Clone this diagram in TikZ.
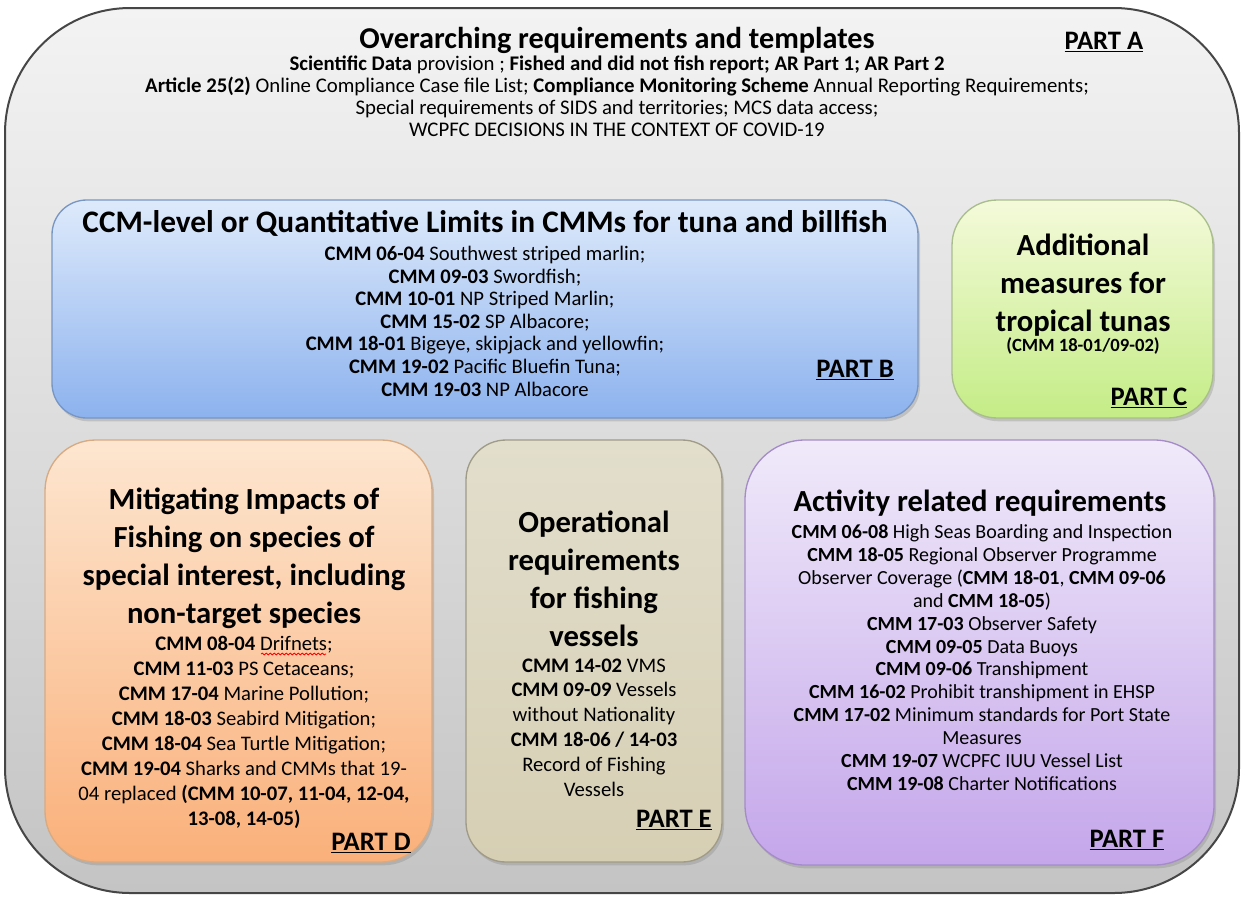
\documentclass[tikz,border=0pt]{standalone}
\usepackage{fontspec}
\setmainfont{Carlito}
\usetikzlibrary{shadows,calc,decorations.pathmorphing}

\definecolor{frameTop}{RGB}{243,243,243}
\definecolor{frameBot}{RGB}{196,196,196}
\definecolor{frameLine}{RGB}{70,70,70}
\definecolor{blueTop}{RGB}{222,234,251}
\definecolor{blueBot}{RGB}{140,178,238}
\definecolor{blueLine}{RGB}{120,150,195}
\definecolor{greenTop}{RGB}{244,250,218}
\definecolor{greenBot}{RGB}{196,236,134}
\definecolor{greenLine}{RGB}{170,190,140}
\definecolor{orangeTop}{RGB}{253,230,208}
\definecolor{orangeBot}{RGB}{250,176,122}
\definecolor{orangeLine}{RGB}{215,170,130}
\definecolor{tanTop}{RGB}{226,222,204}
\definecolor{tanBot}{RGB}{214,207,180}
\definecolor{tanLine}{RGB}{160,155,135}
\definecolor{lilacTop}{RGB}{240,234,250}
\definecolor{lilacBot}{RGB}{196,166,234}
\definecolor{lilacLine}{RGB}{165,140,200}

\tikzset{every picture/.style={line width=0.75pt}}
\tikzset{
  panel/.style={line width=1pt, drop shadow={opacity=0.3, shadow xshift=1.5pt, shadow yshift=-2.5pt}},
  ttl/.style={font=\fontsize{23}{28.5}\selectfont\bfseries, align=center, inner sep=0pt},
  lst/.style={font=\fontsize{15.5}{16.9}\selectfont, align=center, inner sep=0pt},
  partlbl/.style={font=\fontsize{20}{22}\selectfont\bfseries, inner sep=0pt},
  spellwave/.style={red, line width=0.6pt, decorate, decoration={snake, amplitude=0.7pt, segment length=3pt}},
}

\begin{document}
\begin{tikzpicture}[x=0.75pt,y=0.75pt,yscale=-1,xscale=1]
\path[use as bounding box] (0,0) rectangle (1241,896);

%Rounded Rect [outer frame]
\draw [color=frameLine, line width=1.5pt, top color=frameTop, bottom color=frameBot, rounded corners=94pt] (5,8) rectangle (1239,893) ;

%Rounded Rect [part B]
\draw [panel, color=blueLine, top color=blueTop, bottom color=blueBot, rounded corners=26pt] (52,200) rectangle (918,418) ;
%Rounded Rect [part C]
\draw [panel, color=greenLine, top color=greenTop, bottom color=greenBot, rounded corners=34pt] (952,200) rectangle (1213,418) ;
%Rounded Rect [part D]
\draw [panel, color=orangeLine, top color=orangeTop, bottom color=orangeBot, rounded corners=38pt] (45,440) rectangle (432,862) ;
%Rounded Rect [part E]
\draw [panel, color=tanLine, top color=tanTop, bottom color=tanBot, rounded corners=30pt] (466,440) rectangle (722,862) ;
%Rounded Rect [part F]
\draw [panel, color=lilacLine, top color=lilacTop, bottom color=lilacBot, rounded corners=45pt] (745,440) rectangle (1214,865) ;

% Text Node
\node [ttl, font=\fontsize{22.7}{28}\selectfont\bfseries] (titleA) at (617,40) {Overarching requirements and templates};
% Text Node
\node [lst, anchor=north, font=\fontsize{15.6}{16.5}\selectfont] (listA) at (617,55) {\textbf{Scientific Data} provision ; \textbf{Fished and did not fish report; AR Part 1; AR Part 2}\\\textbf{Article 25(2)} Online Compliance Case file List; \textbf{Compliance Monitoring Scheme} Annual Reporting Requirements;\\Special requirements of SIDS and territories; MCS data access;\\WCPFC DECISIONS IN THE CONTEXT OF COVID-19};
% Text Node
\node [partlbl] (partA) at (1104,42) {\underline{PART A}};

% Text Node
\node [ttl, font=\fontsize{23.5}{28}\selectfont\bfseries] (titleB) at (485,223) {CCM-level or Quantitative Limits in CMMs for tuna and billfish};
% Text Node
\node [lst, anchor=north] (listB) at (485,246) {\textbf{CMM 06-04} Southwest striped marlin;\\\textbf{CMM 09-03} Swordfish;\\\textbf{CMM 10-01} NP Striped Marlin;\\\textbf{CMM 15-02} SP Albacore;\\\textbf{CMM 18-01} Bigeye, skipjack and yellowfin;\\\textbf{CMM 19-02} Pacific Bluefin Tuna;\\\textbf{CMM 19-03} NP Albacore};
% Text Node
\node [partlbl] (partB) at (855,370) {\underline{PART B}};

% Text Node
\node [ttl, anchor=north] (titleC) at (1083,233) {Additional\\measures for\\tropical tunas};
% Text Node
\node [lst, font=\fontsize{14}{16}\selectfont\bfseries] (refC) at (1083,346) {(CMM 18-01/09-02)};
% Text Node
\node [partlbl] (partC) at (1149,398) {\underline{PART C}};

% Text Node
\node [ttl, anchor=north] (titleD) at (244,487) {Mitigating Impacts of\\Fishing on species of\\special interest, including\\non-target species};
% Text Node
\node [lst, anchor=north, font=\fontsize{15.5}{18.75}\selectfont] (listD) at (244,636) {\textbf{CMM 08-04} Drifnets;\\\textbf{CMM 11-03} PS Cetaceans;\\\textbf{CMM 17-04} Marine Pollution;\\\textbf{CMM 18-03} Seabird Mitigation;\\\textbf{CMM 18-04} Sea Turtle Mitigation;\\\textbf{CMM 19-04} Sharks and CMMs that 19-\\04 replaced \textbf{(CMM 10-07, 11-04, 12-04,}\\\textbf{13-08, 14-05)}};
%Spelling mark under Drifnets
\draw [spellwave] ($(listD.north)+(17,18)$) -- ($(listD.north)+(82,18)$) ;
% Text Node
\node [partlbl] (partD) at (371,843) {\underline{PART D}};

% Text Node
\node [ttl, anchor=north] (titleE) at (594,510) {Operational\\requirements\\for fishing\\vessels};
% Text Node
\node [lst, anchor=north, font=\fontsize{15.5}{18.6}\selectfont] (listE) at (594,658) {\textbf{CMM 14-02} VMS\\\textbf{CMM 09-09} Vessels\\without Nationality\\\textbf{CMM 18-06 / 14-03}\\Record of Fishing\\Vessels};
% Text Node
\node [partlbl] (partE) at (674,820) {\underline{PART E}};

% Text Node
\node [ttl] (titleF) at (980,503) {Activity related requirements};
% Text Node
\node [lst, anchor=north, font=\fontsize{15}{17.2}\selectfont] (listF) at (982,524) {\textbf{CMM 06-08} High Seas Boarding and Inspection\\\textbf{CMM 18-05} Regional Observer Programme\\Observer Coverage (\textbf{CMM 18-01}, \textbf{CMM 09-06}\\and \textbf{CMM 18-05})\\\textbf{CMM 17-03} Observer Safety\\\textbf{CMM 09-05} Data Buoys\\\textbf{CMM 09-06} Transhipment\\\textbf{CMM 16-02} Prohibit transhipment in EHSP\\\textbf{CMM 17-02} Minimum standards for Port State\\Measures\\\textbf{CMM 19-07} WCPFC IUU Vessel List\\\textbf{CMM 19-08} Charter Notifications};
% Text Node
\node [partlbl] (partF) at (1127,840) {\underline{PART F}};

\end{tikzpicture}
\end{document}
